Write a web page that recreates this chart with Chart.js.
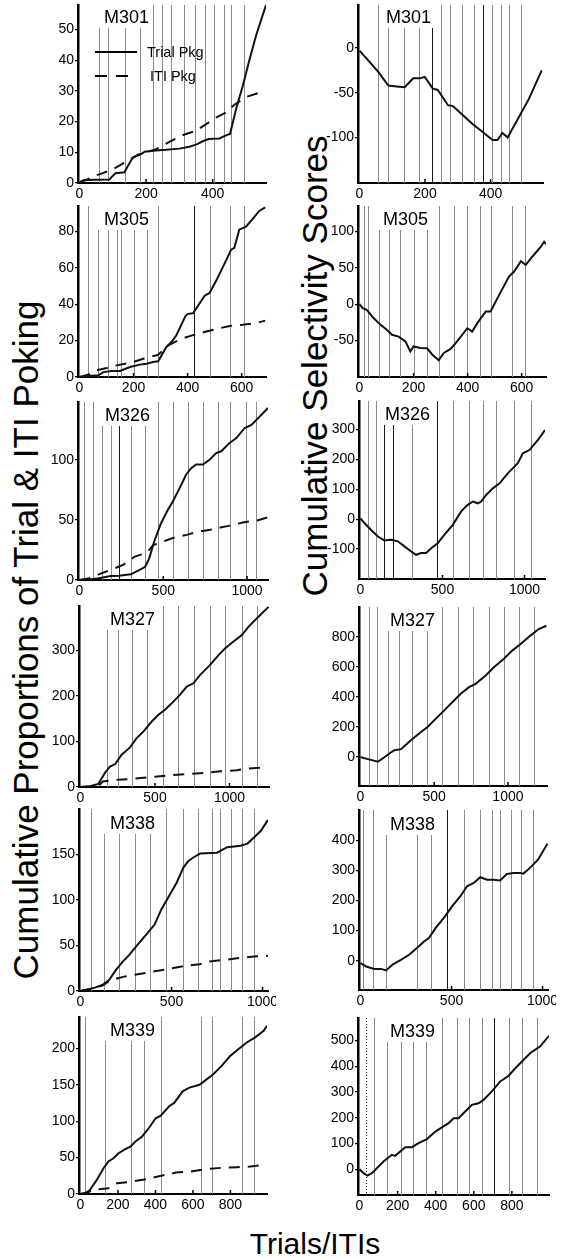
<!DOCTYPE html>
<html>
<head>
<meta charset="utf-8">
<title>Cumulative poking and selectivity</title>
<script src="https://cdn.jsdelivr.net/npm/chart.js@4.4.1/dist/chart.umd.min.js"></script>
<style>
  html, body { margin: 0; padding: 0; background: #fff; }
  body { width: 568px; height: 1259px; position: relative; overflow: hidden;
         font-family: "Liberation Sans", Arial, Helvetica, sans-serif; }
  .panel { position: absolute; }
  .title { position: absolute; white-space: nowrap; color: #000; font-size: 30px; line-height: 30px; }
  .vtitle { font-size: 35px; line-height: 35px; }
</style>
</head>
<body>
<div class="title vtitle" style="left:25px;top:640px;transform:translate(-50%,-50%) rotate(-90deg)">Cumulative Proportions of Trial &amp; ITI Poking</div>
<div class="title vtitle" style="left:314px;top:366px;transform:translate(-50%,-50%) rotate(-90deg)">Cumulative Selectivity Scores</div>
<div class="title" style="left:315px;top:1229px;transform:translateX(-50%)">Trials/ITIs</div>
<script>
// ---- data: [trial, value] pairs ----
const m301Trial = [[0,0],[5,0.5],[15,1],[90,1.1],[97,2],[108,3.2],[135,3.5],[145,5.5],[160,8.3],[172,8.8],[185,9.4],[196,10.2],[220,10.5],[260,10.8],[300,11.2],[330,11.8],[352,12.6],[370,13.6],[388,14.3],[420,14.5],[440,15.5],[452,16],[470,24],[490,31.5],[510,40],[530,48],[548,54],[560,58]];
const m301Iti = [[0,0],[20,1],[50,2.5],[70,3.2],[100,4.5],[130,6.3],[150,7.5],[175,9.2],[200,10],[230,11],[255,12.5],[280,14],[315,15.8],[350,17],[385,19.5],[410,21.3],[440,23],[465,25.5],[500,28],[545,29.6]];
const m301Score = [[0,-3],[22,-12],[58,-27],[88,-42],[113,-43],[138,-44],[164,-34],[184,-34],[199,-32.5],[224,-45.5],[239,-47],[270,-64],[285,-65],[315,-75],[345,-85],[376,-94],[406,-103],[421,-103],[436,-95],[452,-100],[487,-77],[517,-57],[556,-25]];
const m301Sessions = [58,86,136,182,222,249,275,313,348,378,404,433,455,494];

const m305Trial = [[0,0],[27,0.4],[70,0.9],[88,2.7],[119,3.3],[150,3.3],[187,5.5],[223,6.8],[248,7.3],[272,8.2],[291,8.6],[321,16.4],[340,19.2],[358,22.8],[392,33.5],[401,34.7],[420,35],[463,44.7],[481,46.2],[506,53],[542,64],[561,70],[573,71],[591,81],[616,82.7],[640,86.8],[665,91.3],[687,93.2]];
const m305Iti = [[0,0],[39,1.5],[64,3.7],[101,4.9],[137,6.4],[199,8.2],[236,10],[291,12.2],[328,17.4],[377,21],[420,23],[469,25],[518,26.8],[555,28],[604,28.7],[653,29.6],[687,31]];
const m305Score = [[0,0],[12,-5.5],[27,-7.8],[52,-19],[77,-28],[101,-35],[120,-42],[145,-44.5],[170,-51],[188,-65],[200,-58],[225,-60],[250,-60.5],[269,-69],[293,-77],[312,-67],[337,-61.5],[361,-51],[399,-33],[417,-37.6],[436,-26],[467,-10],[485,-10],[510,8],[553,38],[572,45],[597,59],[615,54],[640,65.6],[671,79],[683,86],[690,82.5]];
const m305SessionsL = [31,70,107,140,152,200,248,291,422,483,558,610];
const m305SessionsR = [15,33,74,108,151,200,250,293,349,399,446,488,564,611];

const m326Trial = [[0,0],[56,0.5],[116,1.4],[186,3.3],[236,3.6],[306,4.7],[356,8.3],[392,11],[416,18],[446,32],[486,47],[526,58],[556,65],[596,76],[636,87.5],[666,93],[696,96],[736,96],[776,100],[816,105.5],[846,107],[896,114],[936,118],[986,126.4],[1026,129],[1076,136],[1125,143]];
const m326Iti = [[0,0],[60,1.5],[130,5.5],[210,9.8],[260,12.5],[330,19.5],[400,22.5],[440,29],[520,33],[560,35],[640,37.5],[700,40],[780,41.7],[840,43.6],[890,45],[980,48],[1060,49.5],[1120,52]];
const m326Score = [[0,3],[24,-13],[65,-36],[106,-58],[146,-71],[187,-69],[228,-74],[268,-91],[309,-108],[339,-119],[370,-113],[400,-113],[431,-97],[472,-80],[512,-52],[563,-19],[614,26],[654,48],[685,59],[715,53],[736,59],[766,81],[807,103],[848,120],[898,153],[959,187],[990,220],[1030,231],[1081,264],[1125,298]];
const m326SessionsL = [26,80,136,186,236,306,392,466,556,646,736,826,896,996,1056];
const m326SessionsR = [45,96,146,197,313,467,563,661,746,827,935,1037];

const m327Trial = [[0,0],[63,1.5],[119,6.6],[164,31],[197,45],[233,50.5],[276,71],[332,87],[377,107.5],[422,122],[478,144],[523,159],[567,170],[612,184],[668,203],[713,221],[758,228],[803,246.5],[870,268.5],[926,290],[971,305],[1027,320],[1083,334],[1128,352.6],[1184,371],[1262,396]];
const m327Iti = [[0,0],[120,2],[150,12],[250,16],[340,17.5],[445,21],[535,23.5],[650,27],[750,29],[830,31],[940,34.5],[1050,37],[1105,40],[1225,43]];
const m327Score = [[0,0],[16,-7],[50,-15.5],[117,-33],[151,-11],[196,22],[230,44],[275,51],[342,111],[410,166],[455,199],[511,255],[568,310],[624,366],[680,421],[736,465],[781,487],[849,543],[905,598],[973,654],[1029,709],[1086,753],[1153,809],[1209,853],[1261,875]];
const m327SessionsL = [175,253,343,443,556,657,762,870,971,1083,1184];
const m327SessionsR = [61,113,185,264,347,450,550,658,766,872,973,1074,1176];

const m338Trial = [[0,0],[46,2],[83,4],[120,6.6],[157,12],[194,23],[231,32],[269,40],[306,49],[361,62],[407,73],[444,89.6],[481,102.5],[528,119],[565,135.6],[593,143],[620,146.7],[657,151],[750,152],[806,158],[880,159.6],[917,162],[954,169],[991,176],[1030,188]];
const m338Iti = [[0,0],[80,3.5],[120,6],[165,12],[240,15.8],[315,18.4],[390,21],[480,24],[555,27],[655,29.5],[705,32.4],[795,34.3],[860,36],[955,38],[1030,38.7]];
const m338Score = [[0,-8],[31,-19],[76,-27],[113,-27],[140,-32],[176,-13],[222,3],[267,20],[313,44],[349,64],[376,75],[413,109],[458,142],[504,181],[549,214],[585,247],[622,258],[658,277],[695,269],[731,269],[767,266],[804,288],[840,291],[876,291],[895,289],[931,308],[976,336],[1027,388]];
const m338SessionsL = [56,130,209,302,380,472,565,648,722,769,824,889,954];
const m338SessionsR = [13,67,140,309,385,476,567,655,722,767,827,882,949];

const m339Trial = [[0,0],[23,1],[50,5.5],[86,19],[122,35],[149,44.6],[176,49],[203,56],[239,61.6],[266,65],[293,72],[329,79],[365,90.6],[401,104],[428,107.6],[473,120.5],[500,125],[545,141],[581,146],[635,150],[671,157],[707,164],[752,175.6],[797,189],[842,198.6],[887,208],[932,215],[977,224],[995,231]];
const m339Iti = [[0,0],[40,2],[60,5.5],[150,7.8],[195,14.7],[275,17],[340,20],[430,25],[510,29.4],[590,30.8],[660,34],[750,35.9],[835,36.8],[905,37.7],[985,40]];
const m339Score = [[0,0],[21,-15.5],[42,-24.6],[65,-15.5],[91,4],[126,30],[170,56],[187,52],[214,69],[240,85.5],[275,85.5],[310,101],[354,117],[398,146],[441,166],[468,179],[494,198],[520,198],[564,231],[590,250],[625,256],[651,269],[695,302],[739,341],[783,363],[827,399],[862,425],[897,451],[949,477],[995,518]];
const m339SessionsL = [23,131,272,340,430,644,701,860,928];
const m339SessionsR = [74,144,217,280,350,433,511,573,643,704,783,853,932];

// tick labels
const ticks301X = [0,200,400];
const ticks305X = [0,200,400,600];
const ticks1000X = [0,500,1000];
const ticks339X = [0,200,400,600,800];

const FONT = '"Liberation Sans", Arial, Helvetica, sans-serif';
const AXW = 46, AXH = 22, PADT = 4, PADR = 8;

// panel layout: box = [left, top, right, bottom] of the plot area in page pixels
const panels = [
  { name:'M301', box:[78,5,266,183], xMax:560, yMin:0, yMax:58, xTicks:ticks301X, yTicks:[0,10,20,30,40,50],
    lines:[m301Trial, m301Iti], sessions:m301Sessions, dark:[], labelDx:26, labelDy:18, legend:true },
  { name:'M301', box:[358,5,543,183], xMax:560, yMin:-151, yMax:48, xTicks:ticks301X, yTicks:[-100,-50,0],
    lines:[m301Score], sessions:m301Sessions, dark:[222,378], labelDx:28, labelDy:18 },
  { name:'M305', box:[78,206,266,377], xMax:690, yMin:0, yMax:94, xTicks:ticks305X, yTicks:[0,20,40,60,80],
    lines:[m305Trial, m305Iti], sessions:m305SessionsL, dark:[422], labelDx:26, labelDy:19 },
  { name:'M305', box:[358,206,546,377], xMax:690, yMin:-100, yMax:135, xTicks:ticks305X, yTicks:[-50,0,50,100],
    lines:[m305Score], sessions:m305SessionsR, dark:[], labelDx:25, labelDy:19 },
  { name:'M326', box:[78,402,268,580], xMax:1125, yMin:0, yMax:148, xTicks:ticks1000X, yTicks:[0,50,100],
    lines:[m326Trial, m326Iti], sessions:m326SessionsL, dark:[236], labelDx:27, labelDy:19 },
  { name:'M326', box:[359,401,545,579], xMax:1125, yMin:-200, yMax:395, xTicks:ticks1000X, yTicks:[-100,0,100,200,300],
    lines:[m326Score], sessions:m326SessionsR, dark:[146,197,467], labelDx:26, labelDy:19 },
  { name:'M327', box:[79,606,269,787], xMax:1265, yMin:0, yMax:398, xTicks:ticks1000X, yTicks:[0,100,200,300],
    lines:[m327Trial, m327Iti], sessions:m327SessionsL, dark:[], labelDx:31, labelDy:19 },
  { name:'M327', box:[359,607,547,786], xMax:1265, yMin:-195, yMax:1000, xTicks:ticks1000X, yTicks:[0,200,400,600,800],
    lines:[m327Score], sessions:m327SessionsR, dark:[], labelDx:31, labelDy:19 },
  { name:'M338', box:[79,809,268,991], xMax:1030, yMin:0, yMax:200, xTicks:ticks1000X, yTicks:[0,50,100,150],
    lines:[m338Trial, m338Iti], sessions:m338SessionsL, dark:[], labelDx:31, labelDy:20 },
  { name:'M338', box:[359,810,548,990], xMax:1030, yMin:-97, yMax:500, xTicks:ticks1000X, yTicks:[0,100,200,300,400],
    lines:[m338Score], sessions:m338SessionsR, dark:[476], labelDx:31, labelDy:20 },
  { name:'M339', box:[79,1017,267,1194], xMax:995, yMin:0, yMax:243, xTicks:ticks339X, yTicks:[0,50,100,150,200],
    lines:[m339Trial, m339Iti], sessions:m339SessionsL, dark:[], labelDx:31, labelDy:19 },
  { name:'M339', box:[358,1018,549,1195], xMax:995, yMin:-100, yMax:587, xTicks:ticks339X, yTicks:[0,100,200,300,400,500],
    lines:[m339Score], sessions:m339SessionsR, dark:[704], dotted:[33], labelDx:32, labelDy:19 }
];

// session boundaries, panel name and (top-left only) legend
function makeDeco(p) {
  return {
    id: 'deco',
    beforeDatasetsDraw(chart) {
      const { ctx, chartArea: a, scales: { x } } = chart;
      ctx.save();
      ctx.lineWidth = 1;
      p.sessions.forEach(v => {
        const px = Math.round(x.getPixelForValue(v)) + 0.5;
        ctx.strokeStyle = p.dark.includes(v) ? '#1a1a1a' : '#8a8a8a';
        ctx.beginPath(); ctx.moveTo(px, a.top); ctx.lineTo(px, a.bottom); ctx.stroke();
      });
      (p.dotted || []).forEach(v => {
        const px = Math.round(x.getPixelForValue(v)) + 0.5;
        ctx.strokeStyle = '#000';
        ctx.setLineDash([1, 2]);
        ctx.beginPath(); ctx.moveTo(px, a.top); ctx.lineTo(px, a.bottom); ctx.stroke();
        ctx.setLineDash([]);
      });
      ctx.font = '18px ' + FONT;
      const tw = ctx.measureText(p.name).width;
      const lx = a.left + p.labelDx, by = a.top + p.labelDy;
      ctx.fillStyle = '#fff';
      ctx.fillRect(lx - 6, a.top, tw + 10, p.labelDy + 5);
      ctx.fillStyle = '#000';
      ctx.textBaseline = 'alphabetic';
      ctx.fillText(p.name, lx, by);
      ctx.restore();
    },
    afterDraw(chart) {
      const { ctx, chartArea: a, scales: { x } } = chart;
      ctx.save();
      ctx.strokeStyle = '#000';
      ctx.lineWidth = 1.5;
      p.xTicks.forEach(v => {
        if (v === 0) return;
        const px = x.getPixelForValue(v);
        ctx.beginPath(); ctx.moveTo(px, a.bottom); ctx.lineTo(px, a.bottom - 4); ctx.stroke();
      });
      if (p.legend) {
        ctx.lineWidth = 2;
        ctx.beginPath(); ctx.moveTo(a.left + 17, a.top + 47); ctx.lineTo(a.left + 59, a.top + 47); ctx.stroke();
        ctx.setLineDash([12, 9]);
        ctx.beginPath(); ctx.moveTo(a.left + 17, a.top + 71); ctx.lineTo(a.left + 59, a.top + 71); ctx.stroke();
        ctx.setLineDash([]);
        ctx.fillStyle = '#000';
        ctx.font = '14.5px ' + FONT;
        ctx.textBaseline = 'middle';
        ctx.fillText('Trial Pkg', a.left + 69, a.top + 48);
        ctx.fillText('ITI Pkg', a.left + 72, a.top + 72);
      }
      ctx.restore();
    }
  };
}

panels.forEach(p => {
  const [l, t, r, b] = p.box;
  const w = r - l + AXW + PADR, h = b - t + PADT + AXH;
  const wrap = document.createElement('div');
  wrap.className = 'panel';
  wrap.style.left = (l - AXW) + 'px';
  wrap.style.top = (t - PADT) + 'px';
  wrap.style.width = w + 'px';
  wrap.style.height = h + 'px';
  const cv = document.createElement('canvas');
  cv.width = w; cv.height = h;
  wrap.appendChild(cv);
  document.body.appendChild(wrap);

  const datasets = p.lines.map((pts, i) => ({
    data: pts,
    borderColor: '#111',
    borderWidth: 2,
    borderDash: i === 1 ? [11, 8] : [],
    pointRadius: 0,
    tension: 0,
    fill: false
  }));

  new Chart(cv, {
    type: 'line',
    data: { datasets },
    options: {
      responsive: false,
      animation: false,
      devicePixelRatio: 1,
      layout: { padding: { left: 0, top: PADT, right: PADR, bottom: 0 } },
      plugins: { legend: { display: false }, tooltip: { enabled: false } },
      scales: {
        x: {
          type: 'linear',
          min: -p.xMax * 0.008, max: p.xMax,
          afterBuildTicks: s => { s.ticks = p.xTicks.map(v => ({ value: v })); },
          afterFit: s => { s.height = AXH; s.paddingLeft = 0; s.paddingRight = 0; },
          border: { display: true, color: '#000', width: 2 },
          grid: { display: false, drawTicks: false },
          ticks: { color: '#000', font: { family: FONT, size: 14 }, padding: 3, maxRotation: 0, autoSkip: false,
                   callback: v => String(v) }
        },
        y: {
          type: 'linear',
          min: p.yMin, max: p.yMax,
          afterBuildTicks: s => { s.ticks = p.yTicks.map(v => ({ value: v })); },
          afterFit: s => { s.width = AXW; s.paddingTop = 0; s.paddingBottom = 0; },
          border: { display: true, color: '#000', width: 2.5 },
          grid: { display: true, drawOnChartArea: false, drawTicks: true, tickLength: 3, color: '#000', lineWidth: 1.2 },
          ticks: { color: '#000', font: { family: FONT, size: 14 }, padding: 1, callback: v => String(v) }
        }
      }
    },
    plugins: [makeDeco(p)]
  });
});
</script>
</body>
</html>
